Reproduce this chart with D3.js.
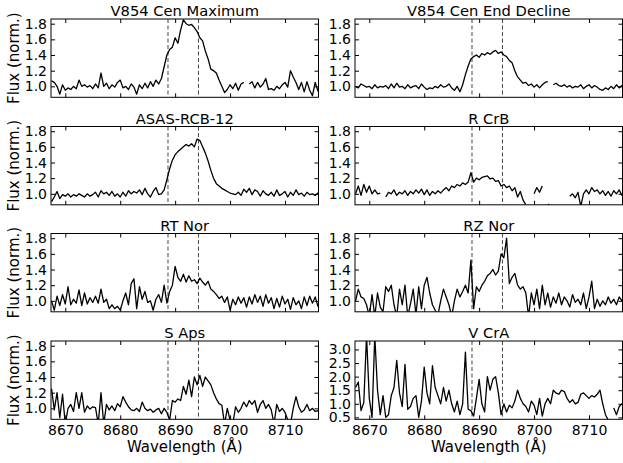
<!DOCTYPE html>
<html>
<head>
<meta charset="utf-8">
<script src="https://cdn.jsdelivr.net/npm/d3@7"></script>
<style>
  body { margin: 0; background: #fff; }
  svg text { font-family: "DejaVu Sans", sans-serif; fill: #000; }
</style>
</head>
<body>
<svg id="spectra" width="623" height="463"></svg>
<script>
/**
 *   Ca II 8662-ish region spectra, 4x2 panels
 */

// sampled every 0.5 A starting at 8667.5 A, null = no data
var wave_start = 8667.5;
var wave_step  = 0.5;

var flux_v854_max = [1.07,1.05,1.0,0.9,1.02,0.95,0.98,0.96,1.0,0.97,1.08,1.0,1.02,0.99,1.01,0.97,1.03,0.98,1.17,1.0,
  1.04,0.97,1.02,0.99,1.05,1.08,0.98,1.0,0.96,1.03,0.99,0.9,1.02,0.97,1.04,0.98,1.06,1.0,1.08,1.03,
  1.1,1.25,1.4,1.47,1.5,1.62,1.55,1.72,1.85,1.8,1.78,1.79,1.75,1.7,1.62,1.58,1.45,1.35,1.22,1.2,
  1.17,1.08,1.0,0.92,0.96,1.02,0.97,1.04,0.95,1.03,1.05,null,1.03,1.06,0.98,1.05,0.99,1.03,1.1,0.96,
  0.97,0.95,1.0,0.97,1.02,1.05,0.99,1.2,1.12,1.05,0.96,1.05,0.93,1.06,0.95,0.88,1.05,0.94,1.05];

var flux_v854_dec = [1.0,0.98,1.03,1.01,0.99,1.0,0.97,1.02,0.98,1.0,0.99,1.01,0.97,1.03,0.98,1.04,0.99,1.0,0.97,1.02,
  0.98,1.0,1.01,0.97,1.03,0.99,0.96,0.98,0.97,1.0,0.98,1.02,0.99,1.0,1.03,0.98,0.95,1.0,0.93,1.02,
  1.15,1.26,1.35,1.38,1.4,1.37,1.42,1.4,1.43,1.41,1.44,1.46,1.42,1.44,1.4,1.38,1.33,1.3,1.2,1.12,
  1.08,1.04,1.05,1.01,1.03,0.99,1.02,0.98,1.02,1.05,1.06,null,1.02,1.04,1.01,1.0,1.02,0.99,1.01,0.98,
  1.0,0.99,1.02,0.97,1.0,1.02,0.98,1.01,0.99,0.96,0.95,0.98,0.96,1.0,0.97,1.02,0.98,1.01,1.0];

var flux_asas12 = [0.9,0.96,1.03,0.94,0.99,0.97,1.0,0.96,0.99,0.97,1.0,0.98,0.96,1.0,0.97,0.99,1.02,0.96,1.04,1.0,
  1.02,0.98,1.03,0.97,1.0,0.96,1.02,0.97,1.04,1.0,1.03,1.01,1.05,0.99,1.07,1.0,0.96,1.03,1.08,0.99,
  1.0,1.05,1.18,1.32,1.43,1.5,1.54,1.57,1.6,1.63,1.61,1.64,1.6,1.7,1.68,1.6,1.52,1.42,1.3,1.2,
  1.13,1.1,1.07,1.05,1.03,1.01,1.0,0.99,1.02,0.98,1.06,1.02,1.07,0.99,1.05,1.03,0.97,1.04,1.0,0.98,
  1.02,0.97,1.05,0.98,1.0,1.03,0.96,1.02,0.98,1.05,0.99,1.01,0.97,1.02,0.99,1.0,0.98,1.01,0.99];

var flux_rcrb = [1.0,1.1,0.98,1.12,1.02,1.1,1.0,1.05,1.0,1.01,null,0.96,1.02,1.0,1.05,0.98,1.02,1.0,1.04,0.98,
  1.03,1.0,1.05,1.01,1.06,0.99,1.05,0.98,1.03,1.0,1.04,1.01,1.05,1.08,1.04,1.1,1.08,1.12,1.1,1.14,
  1.12,1.15,1.27,1.15,1.2,1.18,1.21,1.22,1.23,1.19,1.2,1.16,1.17,1.1,1.12,1.08,1.1,1.04,1.08,0.96,
  1.03,0.92,0.86,null,null,1.0,1.08,1.02,1.1,null,0.87,0.84,null,null,null,null,null,null,0.97,1.0,
  0.95,1.02,0.84,1.0,1.05,1.0,1.08,1.03,1.05,1.0,1.04,0.98,1.03,0.97,1.04,1.0,1.05,0.98,1.04];

var flux_rtnor = [1.0,0.88,1.06,0.94,1.08,0.96,1.18,0.95,1.02,0.97,1.14,0.94,1.1,0.96,1.04,0.98,1.06,0.97,1.15,0.98,
  1.02,0.9,0.95,0.9,0.93,0.88,1.0,1.1,0.95,1.22,1.28,0.9,1.18,1.02,1.12,0.98,1.0,0.88,1.02,1.08,
  0.98,1.2,0.97,1.12,1.2,1.44,1.3,1.25,1.34,1.24,1.32,1.25,1.27,1.22,1.29,1.24,1.2,1.25,1.15,1.12,
  1.08,1.03,1.06,0.98,1.05,0.88,1.02,0.95,1.05,0.97,1.04,0.92,1.05,0.96,1.08,0.98,1.06,0.93,1.08,0.97,
  1.04,0.9,1.03,0.92,1.06,0.96,1.02,0.89,1.04,0.95,1.0,0.9,1.05,0.94,1.06,0.97,1.05,0.93,1.0];

var flux_rznor = [1.0,1.15,1.05,1.03,0.95,0.8,1.08,0.8,1.1,0.92,0.86,1.18,1.12,1.2,0.95,0.8,1.15,0.95,1.2,0.8,
  0.96,1.15,0.82,1.18,0.9,1.2,1.3,1.1,0.95,0.88,0.82,1.0,1.15,1.05,0.95,0.8,1.0,1.15,1.05,1.12,
  1.2,1.1,1.52,0.9,1.18,1.12,1.2,1.25,1.32,1.35,1.4,1.33,1.38,1.6,1.55,1.8,1.22,1.3,1.35,1.2,
  1.15,1.18,1.1,0.8,1.1,0.95,1.15,0.9,1.2,0.95,1.1,0.92,1.05,0.97,1.1,0.95,1.05,1.0,0.92,1.08,
  0.98,1.02,0.95,1.1,0.9,1.05,1.25,0.9,1.02,0.93,1.0,0.95,1.05,0.97,1.02,0.95,1.05,1.0,1.08];

var flux_saps = [1.25,0.98,1.2,0.88,1.18,0.8,1.0,1.05,0.96,1.2,1.0,1.2,0.95,1.03,0.99,1.02,1.01,0.8,1.2,0.8,
  1.05,0.98,1.03,0.97,1.06,1.02,1.15,1.08,1.02,0.98,0.97,1.0,0.96,1.08,1.0,0.97,0.99,0.95,0.98,1.0,
  0.93,1.0,0.95,0.85,1.1,1.08,1.12,1.1,1.28,1.18,1.36,1.15,1.4,1.3,1.42,1.28,1.4,1.35,1.3,1.2,
  1.12,1.06,1.04,0.8,1.0,0.85,0.8,1.02,0.95,1.0,1.08,1.02,1.1,1.05,1.1,0.95,1.05,1.1,1.0,1.05,
  0.98,0.8,1.05,0.96,1.0,0.95,0.85,0.8,1.0,1.15,1.02,0.95,0.98,1.05,0.97,1.0,0.96,0.97,0.95];

var flux_vcra = [1.6,1.8,0.75,1.05,3.5,1.2,0.5,3.5,1.5,0.6,1.3,0.5,0.6,1.3,1.6,2.6,1.4,0.9,2.45,0.8,
  0.9,1.2,1.3,0.5,1.1,2.35,1.4,1.0,2.4,1.6,1.3,1.0,1.6,1.1,1.5,1.0,0.7,1.1,0.6,1.0,
  2.9,0.8,0.75,0.55,1.2,1.9,1.0,0.7,2.0,1.5,1.9,2.0,1.4,0.6,1.0,0.7,0.95,0.85,1.1,1.5,
  1.2,1.0,0.9,0.7,1.1,0.95,0.6,1.2,0.55,1.0,1.2,1.0,1.5,1.4,1.35,1.5,1.45,1.2,1.05,1.15,
  1.0,1.05,1.35,1.4,1.3,1.2,1.3,1.25,1.35,1.5,1.0,0.6,0.4,null,0.85,0.6,0.9,1.0,0.95];

var titles = ["V854 Cen Maximum", "V854 Cen End Decline", "ASAS-RCB-12", "R CrB",
              "RT Nor", "RZ Nor", "S Aps", "V CrA"];
var series = [flux_v854_max, flux_v854_dec, flux_asas12, flux_rcrb,
              flux_rtnor, flux_rznor, flux_saps, flux_vcra];

var wave_ticks  = [8670, 8680, 8690, 8700, 8710];
var flux_ticks  = [1.0, 1.2, 1.4, 1.6, 1.8];
var vcra_ticks  = [0.5, 1.0, 1.5, 2.0, 2.5, 3.0];
var line_waves  = [8688.7, 8694.25];

var svg    = d3.select("#spectra");
var col_x  = [51, 355];
var row_y  = [19, 126.5, 233.5, 341];
var plot_w = 267.5;
var plot_h = 78.3;

var x = d3.scaleLinear().domain([8667.4, 8716.1]).range([0, plot_w]);
var fmt = d3.format(".1f");

series.forEach(function(flux, i){
    var col = i % 2, row = Math.floor(i / 2);
    var is_vcra = (i == 7);
    var y = d3.scaleLinear()
        .domain(is_vcra ? [0.43, 3.31] : [0.86, 1.86])
        .range([plot_h, 0]);
    var yticks = is_vcra ? vcra_ticks : flux_ticks;

    var g = svg.append("g")
        .attr("transform", "translate(" + col_x[col] + "," + row_y[row] + ")");

    svg.append("defs").append("clipPath").attr("id", "clip" + i)
       .append("rect").attr("width", plot_w).attr("height", plot_h);

    var pts = flux.map(function(v, k){ return { w: wave_start + k * wave_step, f: v }; });
    var line = d3.line()
        .defined(function(d) { return d.f != null; })
        .x(function(d) { return x(d.w); })
        .y(function(d) { return y(d.f); });

    var inner = g.append("g").attr("clip-path", "url(#clip" + i + ")");
    inner.selectAll("line.mark")
        .data(line_waves).enter().append("line")
        .attr("class", "mark")
        .attr("x1", function(d) { return x(d); }).attr("x2", function(d) { return x(d); })
        .attr("y1", 0).attr("y2", plot_h)
        .attr("stroke", "#444").attr("stroke-width", 1)
        .attr("stroke-dasharray", "4,2.5");
    inner.append("path")
        .datum(pts)
        .attr("d", line)
        .attr("fill", "none")
        .attr("stroke", "#000")
        .attr("stroke-width", 1.3)
        .attr("stroke-linejoin", "round");

    // ticks inward on all four sides
    var ax_b = d3.axisBottom(x).tickValues(wave_ticks).tickSize(-4).tickPadding(6)
        .tickFormat(row == 3 ? d3.format("d") : "");
    var ax_t = d3.axisTop(x).tickValues(wave_ticks).tickSize(-4).tickFormat("");
    var ax_l = d3.axisLeft(y).tickValues(yticks).tickSize(-4).tickPadding(4).tickFormat(fmt);
    var ax_r = d3.axisRight(y).tickValues(yticks).tickSize(-4).tickFormat("");

    [[ax_b, "translate(0," + plot_h + ")"], [ax_t, null], [ax_l, null],
     [ax_r, "translate(" + plot_w + ",0)"]].forEach(function(a){
        var ag = g.append("g").call(a[0]);
        if (a[1]) ag.attr("transform", a[1]);
        ag.select(".domain").remove();
        ag.attr("font-family", null).attr("font-size", 14);
        ag.selectAll("line").attr("stroke", "#000").attr("stroke-width", 1);
    });

    g.append("rect")
        .attr("width", plot_w).attr("height", plot_h)
        .attr("fill", "none").attr("stroke", "#000").attr("stroke-width", 1);

    g.append("text")
        .attr("x", plot_w / 2).attr("y", -3)
        .attr("text-anchor", "middle")
        .attr("font-size", 14.7)
        .text(titles[i]);

    if (col == 0) {
        svg.append("text")
            .attr("transform", "translate(18.5," + (row_y[row] + plot_h / 2) + ") rotate(-90)")
            .attr("text-anchor", "middle")
            .attr("font-size", 15)
            .text("Flux (norm.)");
    }
    if (row == 3) {
        g.append("text")
            .attr("x", plot_w / 2).attr("y", plot_h + 33)
            .attr("text-anchor", "middle")
            .attr("font-size", 15)
            .text("Wavelength (\u00C5)");
    }
});
</script>
</body>
</html>
